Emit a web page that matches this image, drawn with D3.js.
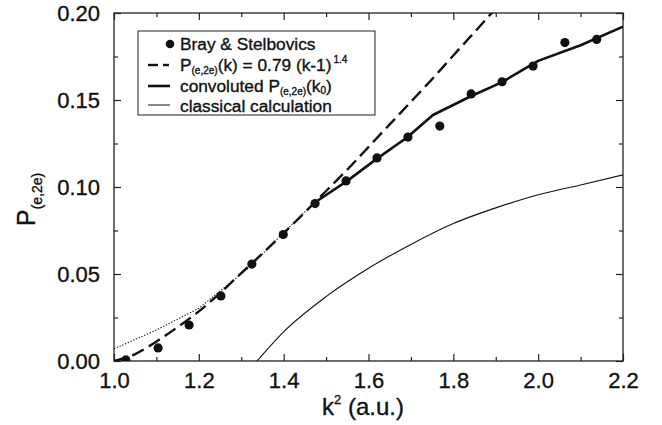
<!DOCTYPE html>
<html>
<head>
<meta charset="utf-8">
<script src="https://cdn.jsdelivr.net/npm/d3@7"></script>
<style>
  body { margin: 0; background: #fff; }
  text { font-family: "Liberation Sans", Arial, sans-serif; fill: #111; stroke: #111; stroke-width: 0.35px; }
</style>
</head>
<body>
<div id="wrapper"></div>
<script>
// data
const brayK2 = [1.028, 1.104, 1.177, 1.252, 1.325, 1.399, 1.474, 1.547, 1.62, 1.693, 1.768, 1.842, 1.915, 1.988, 2.063, 2.138];
const brayP = [0.0006, 0.0075, 0.0207, 0.0374, 0.0557, 0.0727, 0.0905, 0.1035, 0.1167, 0.1287, 0.135, 0.1535, 0.1605, 0.1695, 0.183, 0.1848];

const fitK2 = [1.0, 1.05, 1.1, 1.15, 1.2, 1.25, 1.3, 1.35, 1.4, 1.45, 1.5, 1.55, 1.6, 1.65, 1.7, 1.75, 1.8, 1.85, 1.9];
const fitP = [0, 0.004, 0.0112, 0.0195, 0.0285, 0.039, 0.0505, 0.0618, 0.0734, 0.0855, 0.0977, 0.110, 0.123, 0.136, 0.149, 0.162, 0.1756, 0.189, 0.2026];

const convK2 = [1.47, 1.55, 1.62, 1.69, 1.752, 1.84, 1.915, 2.0, 2.1, 2.2];
const convP = [0.0905, 0.1035, 0.1163, 0.1283, 0.1414, 0.152, 0.1603, 0.1725, 0.1815, 0.1922];

const belowK2 = [1.0, 1.1, 1.2, 1.32, 1.4, 1.47];
const belowP = [0.007, 0.0178, 0.0303, 0.054, 0.0738, 0.0905];

const classK2 = [1.337, 1.4, 1.5, 1.6, 1.7, 1.8, 1.9, 2.0, 2.1, 2.2];
const classP = [0, 0.0168, 0.037, 0.0533, 0.067, 0.079, 0.088, 0.0955, 0.1012, 0.107];

const xTicks = [1.0, 1.2, 1.4, 1.6, 1.8, 2.0, 2.2];
const xMinor = [1.1, 1.3, 1.5, 1.7, 1.9, 2.1];
const yTicks = [0, 0.05, 0.10, 0.15, 0.20];
const yMinor = [0.025, 0.075, 0.125, 0.175];

const zip = (xs, ys) => xs.map((x, i) => [x, ys[i]]);

let dimensions = {
  width: 662,
  height: 425,
  margin: { top: 13, right: 39, bottom: 64, left: 114 }
};
dimensions.boundedWidth = dimensions.width - dimensions.margin.left - dimensions.margin.right;
dimensions.boundedHeight = dimensions.height - dimensions.margin.top - dimensions.margin.bottom;

const wrapper = d3.select('#wrapper')
  .append('svg')
  .attr('width', dimensions.width)
  .attr('height', dimensions.height);

const bounds = wrapper.append('g')
  .attr('transform', `translate(${dimensions.margin.left},${dimensions.margin.top})`);

bounds.append('clipPath').attr('id', 'clip')
  .append('rect')
  .attr('width', dimensions.boundedWidth)
  .attr('height', dimensions.boundedHeight);

const xScale = d3.scaleLinear().domain([1.0, 2.2]).range([0, dimensions.boundedWidth]);
const yScale = d3.scaleLinear().domain([0, 0.2]).range([dimensions.boundedHeight, 0]);

// axes with inward ticks on all sides
const axes = bounds.append('g').attr('class', 'axes');
const tickStyle = g => {
  g.select('.domain').remove();
  g.selectAll('line').attr('stroke', '#222').attr('stroke-width', 1.2);
};

axes.append('g')
  .attr('transform', `translate(0,${dimensions.boundedHeight})`)
  .call(d3.axisBottom(xScale).tickValues(xTicks).tickSize(-7).tickPadding(11).tickFormat(d3.format('.1f')))
  .call(tickStyle)
  .call(g => g.selectAll('text').attr('font-size', 22).style('fill', '#111'));
axes.append('g')
  .attr('transform', `translate(0,${dimensions.boundedHeight})`)
  .call(d3.axisBottom(xScale).tickValues(xMinor).tickSize(-4).tickFormat(''))
  .call(tickStyle);
axes.append('g')
  .call(d3.axisTop(xScale).tickValues(xTicks).tickSize(-7).tickFormat(''))
  .call(tickStyle);
axes.append('g')
  .call(d3.axisTop(xScale).tickValues(xMinor).tickSize(-4).tickFormat(''))
  .call(tickStyle);

axes.append('g')
  .call(d3.axisLeft(yScale).tickValues(yTicks).tickSize(-7).tickPadding(14).tickFormat(d3.format('.2f')))
  .call(tickStyle)
  .call(g => g.selectAll('text').attr('font-size', 22).style('fill', '#111'));
axes.append('g')
  .call(d3.axisLeft(yScale).tickValues(yMinor).tickSize(-4).tickFormat(''))
  .call(tickStyle);
axes.append('g')
  .attr('transform', `translate(${dimensions.boundedWidth},0)`)
  .call(d3.axisRight(yScale).tickValues(yTicks).tickSize(-7).tickFormat(''))
  .call(tickStyle);
axes.append('g')
  .attr('transform', `translate(${dimensions.boundedWidth},0)`)
  .call(d3.axisRight(yScale).tickValues(yMinor).tickSize(-4).tickFormat(''))
  .call(tickStyle);

bounds.append('rect')
  .attr('width', dimensions.boundedWidth)
  .attr('height', dimensions.boundedHeight)
  .attr('fill', 'none')
  .attr('stroke', '#222')
  .attr('stroke-width', 1.3);

// lines
const lineLinear = d3.line().x(d => xScale(d[0])).y(d => yScale(d[1]));
const lineSmooth = d3.line().x(d => xScale(d[0])).y(d => yScale(d[1])).curve(d3.curveMonotoneX);

const plot = bounds.append('g').attr('clip-path', 'url(#clip)');

plot.append('path')
  .attr('d', lineSmooth(zip(classK2, classP)))
  .attr('fill', 'none').attr('stroke', '#111').attr('stroke-width', 1.1);

plot.append('path')
  .attr('d', lineLinear(zip(belowK2, belowP)))
  .attr('fill', 'none').attr('stroke', '#111').attr('stroke-width', 1.1)
  .attr('stroke-dasharray', '1.3,1.7');

plot.append('path')
  .attr('d', lineSmooth(zip(fitK2, fitP)))
  .attr('fill', 'none').attr('stroke', '#111').attr('stroke-width', 2.4)
  .attr('stroke-dasharray', '13,6');

plot.append('path')
  .attr('d', lineLinear(zip(convK2, convP)))
  .attr('fill', 'none').attr('stroke', '#111').attr('stroke-width', 2.6)
  .attr('stroke-linejoin', 'round');

plot.selectAll('circle')
  .data(zip(brayK2, brayP))
  .enter().append('circle')
  .attr('cx', d => xScale(d[0]))
  .attr('cy', d => yScale(d[1]))
  .attr('r', 4.6)
  .attr('fill', '#111');

// axis titles
wrapper.append('text')
  .attr('x', 322)
  .attr('y', 415)
  .attr('font-size', 24)
  .call(t => {
    t.append('tspan').text('k');
    t.append('tspan').attr('font-size', 13).attr('dy', -11).text('2');
    t.append('tspan').attr('dy', 11).text(' (a.u.)');
  });

wrapper.append('text')
  .attr('transform', 'translate(35,226) rotate(-90)')
  .attr('font-size', 25)
  .call(t => {
    t.append('tspan').text('P');
    t.append('tspan').attr('font-size', 14).attr('dy', 7).text('(e,2e)');
  });

// legend
const legend = wrapper.append('g');
legend.append('rect')
  .attr('x', 138).attr('y', 31)
  .attr('width', 237).attr('height', 84)
  .attr('fill', '#fff').attr('stroke', '#333').attr('stroke-width', 1.1);

const rowY = [44, 65, 86, 105];
const baseY = [50, 71, 91.5, 111.5];
const textX = 180;
const fs = 17.3;
const subFs = 10;

legend.append('circle').attr('cx', 170).attr('cy', rowY[0]).attr('r', 4.3).attr('fill', '#111');
legend.append('line').attr('x1', 148).attr('x2', 158).attr('y1', rowY[1]).attr('y2', rowY[1])
  .attr('stroke', '#111').attr('stroke-width', 2.4);
legend.append('line').attr('x1', 163).attr('x2', 169).attr('y1', rowY[1]).attr('y2', rowY[1])
  .attr('stroke', '#111').attr('stroke-width', 2.4);
legend.append('line').attr('x1', 148).attr('x2', 170).attr('y1', rowY[2]).attr('y2', rowY[2])
  .attr('stroke', '#111').attr('stroke-width', 2.6);
legend.append('line').attr('x1', 148).attr('x2', 170).attr('y1', rowY[3]).attr('y2', rowY[3])
  .attr('stroke', '#111').attr('stroke-width', 1);

legend.append('text').attr('x', textX).attr('y', baseY[0]).attr('font-size', fs)
  .text('Bray & Stelbovics');

legend.append('text').attr('x', textX).attr('y', baseY[1]).attr('font-size', fs)
  .call(t => {
    t.append('tspan').text('P');
    t.append('tspan').attr('font-size', subFs).attr('dy', 3).text('(e,2e)');
    t.append('tspan').attr('dy', -3).text('(k) = 0.79 (k-1)');
    t.append('tspan').attr('font-size', subFs).attr('dy', -8).attr('dx', 2).text('1.4');
  });

legend.append('text').attr('x', textX).attr('y', baseY[2]).attr('font-size', fs)
  .call(t => {
    t.append('tspan').text('convoluted P');
    t.append('tspan').attr('font-size', subFs).attr('dy', 3).text('(e,2e)');
    t.append('tspan').attr('dy', -3).text('(k');
    t.append('tspan').attr('font-size', subFs).attr('dy', 2).text('0');
    t.append('tspan').attr('dy', -2).text(')');
  });

legend.append('text').attr('x', textX).attr('y', baseY[3]).attr('font-size', fs)
  .text('classical calculation');
</script>
</body>
</html>
